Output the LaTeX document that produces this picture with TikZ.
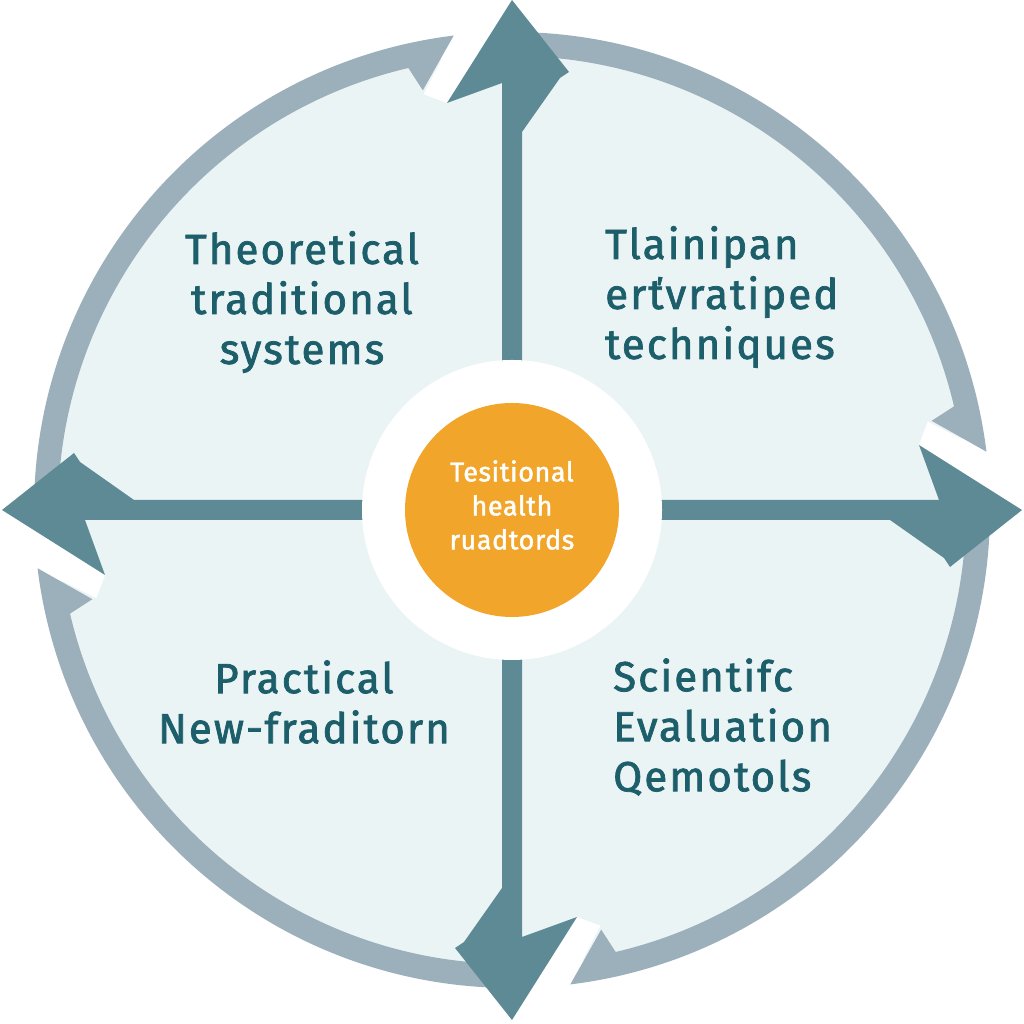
\documentclass[tikz,border=0pt]{standalone}
\usepackage{fontspec}
\setmainfont{Fira Sans}
\newfontfamily\lblfont{Fira Sans}[FakeBold=1.8, LetterSpace=5]
\newfontfamily\ctrfont{Fira Sans}[FakeBold=1.6, LetterSpace=2]
\definecolor{ringcol}{HTML}{9CB0BB}
\definecolor{arrowcol}{HTML}{5E8A96}
\definecolor{txtcol}{HTML}{1D5E6B}
\definecolor{orangecol}{HTML}{F2A52B}
\definecolor{innercol}{HTML}{EBF4F5}
\begin{document}
\begin{tikzpicture}[x=1pt,y=1pt,
  quad/.style={font=\lblfont\fontsize{42}{50}\selectfont, text=txtcol, inner sep=0pt},
  ctr/.style={font=\ctrfont\fontsize{27}{34}\selectfont, text=white, align=center, inner sep=0pt},
  ringarc/.style={fill=ringcol},
  crossarrow/.style={fill=arrowcol},
  gapwedge/.style={fill=white}]
\useasboundingbox (0,0) rectangle (1024,1024);
\fill[white] (0,0) rectangle (1024,1024);
\coordinate (C) at (512,514);
% interior
\fill[innercol] (C) circle (456);
% white wedges in front of each arrow (counter-clockwise side)
\foreach \r in {0,90,180,270}{
  \begin{scope}[shift={(C)}, rotate=\r]
    \path[gapwedge] (12:425) -- (7:478) -- (7:540) -- (0:540) -- (508,0) -- (407,65) -- cycle;
  \end{scope}
}
% ring arcs with harpoon ends (clockwise)
\foreach \a in {180,90,0,-90}{
  \begin{scope}[shift={(C)}]
    \path[ringarc] (\a:478) arc[start angle=\a, end angle={\a-83}, radius=478]
      -- ({\a-78}:429) -- ({\a-76.8}:454)
      arc[start angle={\a-76.8}, end angle=\a, radius=454] -- cycle;
  \end{scope}
}
% cross arrows
\foreach \r in {0,90,180,270}{
  \begin{scope}[shift={(C)}, rotate=\r]
    \path[crossarrow] (100,10) -- (427,10) -- (407,65) -- (510,0) -- (438,-57)
      -- (432,-48) -- (378,-10) -- (100,-10) -- cycle;
  \end{scope}
}
% centre
\fill[white] (C) circle (150);
\node[circle, fill=orangecol, minimum size=214pt, inner sep=0pt] (hub) at (512,514) {};
\node[ctr] (hubtext) at (512,519) {Tesitional\\health\\ruadtords};
% quadrant labels
\node[quad, align=center] (tl) at (302,722) {Theoretical\\traditional\\systems};
\node[quad, align=left, anchor=west] (tr) at (605,727) {Tlainipan\\erťvratiped\\techniques};
\node[quad, align=center] (bl) at (304,322) {Practical\\New-fraditorn};
\node[quad, align=left, anchor=west] (br) at (613,297) {Scientifc\\Evaluation\\Qemotols};
\end{tikzpicture}
\end{document}
